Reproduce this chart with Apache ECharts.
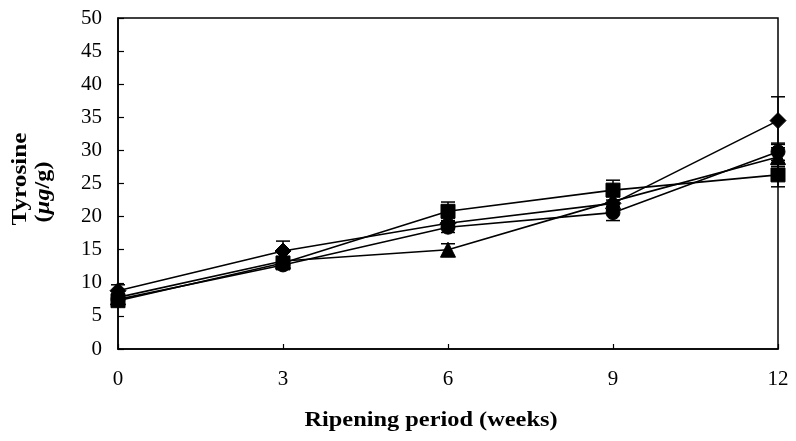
<!DOCTYPE html>
<html>
<head>
<meta charset="utf-8">
<script src="https://cdn.jsdelivr.net/npm/echarts@6/dist/echarts.min.js"></script>
<style>
html,body{margin:0;padding:0;background:#fff;}
#chart{width:796px;height:441px;}
</style>
</head>
<body>
<div id="chart"></div>
<script>
// Ripening weeks
const weeks = [0, 3, 6, 9, 12];
const yTicks = [0, 5, 10, 15, 20, 25, 30, 35, 40, 45, 50];

// Tyrosine content (µg/g) and standard deviations for each sample
const diamondVals = [8.8, 14.8, 19.0, 22.0, 34.5];
const diamondErr  = [0.9, 1.5, 0.8, 1.0, 3.6];
const squareVals  = [7.3, 13.0, 20.8, 24.0, 26.3];
const squareErr   = [0.6, 0.8, 1.4, 1.5, 1.8];
const circleVals  = [7.5, 12.7, 18.4, 20.6, 29.8];
const circleErr   = [0.5, 0.6, 0.8, 1.2, 1.3];
const triVals     = [7.8, 13.3, 15.0, 22.3, 29.0];
const triErr      = [0.5, 0.6, 0.9, 0.8, 1.4];

const FONT = '"Liberation Serif", "DejaVu Serif", serif';

function lineSeries(name, vals, symbol, size) {
  return {
    name, type: 'line',
    data: weeks.map((w, i) => [w, vals[i]]),
    symbol, symbolSize: size,
    lineStyle: { color: '#000', width: 1.6 },
    itemStyle: { color: '#000', borderColor: '#000' },
    z: 3, animation: false
  };
}

function errSeries(vals, errs) {
  return {
    type: 'custom',
    data: weeks.map((w, i) => [w, vals[i] - errs[i], vals[i] + errs[i]]),
    renderItem(params, api) {
      const lo = api.coord([api.value(0), api.value(1)]);
      const hi = api.coord([api.value(0), api.value(2)]);
      const cap = 7;
      const style = { stroke: '#000', lineWidth: 1.5 };
      return {
        type: 'group',
        children: [
          { type: 'line', shape: { x1: lo[0], y1: lo[1], x2: hi[0], y2: hi[1] }, style },
          { type: 'line', shape: { x1: hi[0] - cap, y1: hi[1], x2: hi[0] + cap, y2: hi[1] }, style },
          { type: 'line', shape: { x1: lo[0] - cap, y1: lo[1], x2: lo[0] + cap, y2: lo[1] }, style }
        ]
      };
    },
    z: 2, animation: false
  };
}

const boldText = { fontFamily: FONT, fontWeight: 'bold', fontSize: 21, fill: '#000' };

const chart = echarts.init(document.getElementById('chart'));
chart.setOption({
  backgroundColor: '#fff',
  animation: false,
  grid: { left: 118, right: 18, top: 18, bottom: 92, show: true, borderColor: '#000', borderWidth: 1.5 },
  xAxis: {
    type: 'value', min: 0, max: 12, interval: 3,
    axisLine: { lineStyle: { color: '#000', width: 1.5 } },
    axisTick: { inside: true, length: 5, lineStyle: { color: '#000', width: 1.2 } },
    axisLabel: { fontFamily: FONT, fontSize: 21, color: '#000', margin: 20 },
    splitLine: { show: false }
  },
  yAxis: {
    type: 'value', min: yTicks[0], max: yTicks[yTicks.length - 1], interval: 5,
    axisLine: { lineStyle: { color: '#000', width: 1.5 } },
    axisTick: { inside: true, length: 6, lineStyle: { color: '#000', width: 1.2 } },
    axisLabel: { fontFamily: FONT, fontSize: 21, color: '#000', margin: 16 },
    splitLine: { show: false }
  },
  graphic: [
    {
      // x-axis title, slightly widened
      type: 'text', x: 431, y: 421, scaleX: 1.16,
      style: Object.assign({ text: 'Ripening period (weeks)', align: 'center', verticalAlign: 'middle' }, boldText)
    },
    {
      type: 'text', x: 21, y: 179, rotation: Math.PI / 2, scaleX: 1.2,
      style: Object.assign({ text: 'Tyrosine', align: 'center', verticalAlign: 'middle' }, boldText)
    },
    {
      type: 'text', x: 44, y: 192, rotation: Math.PI / 2, scaleX: 1.15,
      style: {
        text: '{b|(}{i|µg}{b|/g)}', align: 'center', verticalAlign: 'middle',
        rich: {
          b: { fontFamily: FONT, fontWeight: 'bold', fontSize: 21, fill: '#000' },
          i: { fontFamily: FONT, fontWeight: 'bold', fontStyle: 'italic', fontSize: 21, fill: '#000' }
        }
      }
    }
  ],
  series: [
    errSeries(diamondVals, diamondErr),
    errSeries(squareVals, squareErr),
    errSeries(circleVals, circleErr),
    errSeries(triVals, triErr),
    lineSeries('diamond', diamondVals, 'diamond', 16),
    lineSeries('square', squareVals, 'rect', 14),
    lineSeries('circle', circleVals, 'circle', 14),
    lineSeries('triangle', triVals, 'triangle', 15)
  ]
});
</script>
</body>
</html>
